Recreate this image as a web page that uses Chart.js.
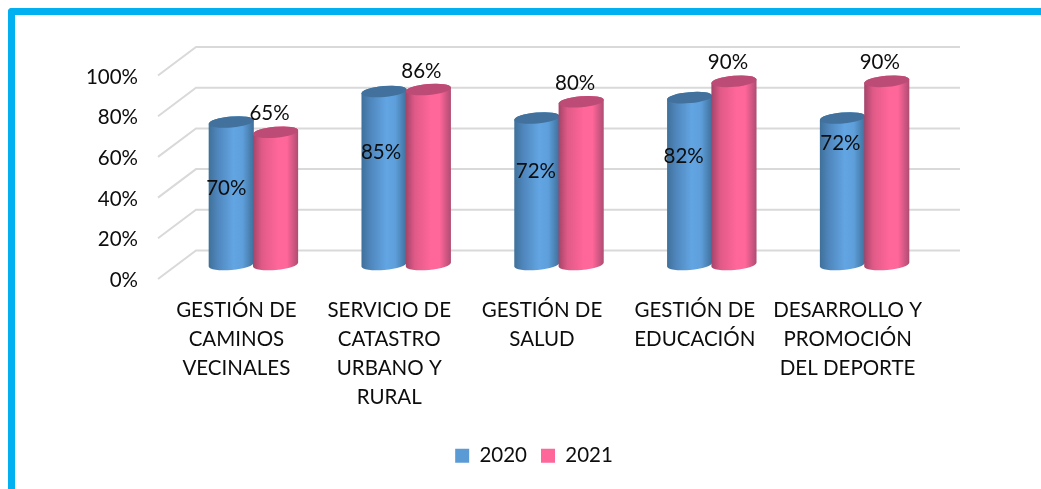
<!DOCTYPE html>
<html><head><meta charset="utf-8">
<style>
html,body{margin:0;padding:0;background:#fff;width:1041px;height:489px;overflow:hidden}
#frame{position:absolute;left:8px;top:8px;right:0;bottom:0;border-left:7.5px solid #00B0F0;border-top:7.5px solid #00B0F0;border-top-left-radius:4px;box-sizing:border-box}
#wrap{position:absolute;left:0;top:0;width:1041px;height:489px}
</style>
<script src="https://cdn.jsdelivr.net/npm/chart.js@4"></script>
</head><body>
<div id="frame"></div>
<div id="wrap"><canvas id="c" width="1041" height="489"></canvas></div>
<script>
const categories = [
  ["GESTIÓN DE","CAMINOS","VECINALES"],
  ["SERVICIO DE","CATASTRO","URBANO Y","RURAL"],
  ["GESTIÓN DE","SALUD"],
  ["GESTIÓN DE","EDUCACIÓN"],
  ["DESARROLLO Y","PROMOCIÓN","DEL DEPORTE"]
];
const seriesNames = ["2020","2021"];
const values2020 = [70,85,72,82,72];
const values2021 = [65,86,80,90,90];
const legendColors = ["#5B9BD5","#FF6699"];
const bodyShades = [["#3F7099","#4F86BC","#62A5E3","#5E9FDB","#3E6F9A"],["#A34468","#E05A87","#FF6699","#FF6699","#AE4C72"]];
const topShades = ["#41719C","#BC4C75"];
// hand-placed label offsets from each bar's top centre, as in the reference
const labelNudge = [
  [[-5,66],[-3,61],[-1,53],[-6,59],[-2,25]],
  [[-6,-19],[-7,-18],[-6,-18],[-6,-19],[-7,-19]]
];
const FONT = "Lato, sans-serif";
const SIZE = 20.5;
const tilt = -5*Math.PI/180, ry = 5.5;

const cylinders = {
  id:"cylinders",
  beforeDatasetsDraw(chart){
    const ctx = chart.ctx, ys = chart.scales.y, a = chart.chartArea;
    ctx.save();
    ctx.strokeStyle = "#D9D9D9"; ctx.lineWidth = 2; ctx.lineCap="butt"; ctx.lineJoin="miter";
    ys.ticks.forEach(t=>{
      const p = ys.getPixelForValue(t.value);
      ctx.beginPath();
      ctx.moveTo(a.left-19,p+14.5);
      ctx.lineTo(a.left+19,p-14);
      ctx.lineTo(a.right+19,p-14);
      ctx.stroke();
    });
    ctx.restore();
  },
  beforeDatasetDraw(){ return false; },
  afterDatasetsDraw(chart){
    const ctx = chart.ctx;
    chart.data.datasets.forEach((ds,d)=>{
      chart.getDatasetMeta(d).data.forEach(el=>{
        const {x,y,width,base} = el.getProps(["x","y","width","base"],true);
        const rx = width/2+0.5;
        ctx.save();
        ctx.beginPath();
        ctx.ellipse(x,base,rx,ry,tilt,Math.PI,0,true);
        ctx.ellipse(x,y,rx,ry,tilt,0,Math.PI,true);
        ctx.closePath();
        const g = ctx.createLinearGradient(x-rx,0,x+rx,0);
        const s = bodyShades[d];
        [0,0.2,0.55,0.75,1].forEach((o,i)=>g.addColorStop(o,s[i]));
        ctx.fillStyle = g; ctx.fill();
        ctx.beginPath();
        ctx.ellipse(x,y,rx,ry,tilt,0,Math.PI*2);
        ctx.fillStyle = topShades[d]; ctx.fill();
        ctx.restore();
      });
    });
    ctx.save();
    ctx.font = SIZE+"px "+FONT; ctx.fillStyle="#0D0D0D"; ctx.textAlign="center"; ctx.textBaseline="middle";
    chart.data.datasets.forEach((ds,d)=>{
      chart.getDatasetMeta(d).data.forEach((el,i)=>{
        const n = labelNudge[d][i];
        ctx.fillText(ds.data[i]+"%", el.x+n[0], el.y+n[1]);
      });
    });
    ctx.restore();
  }
};

new Chart(document.getElementById("c"),{
  type:"bar",
  data:{labels:categories,datasets:[
    {label:seriesNames[0],data:values2020,backgroundColor:legendColors[0],borderWidth:0},
    {label:seriesNames[1],data:values2021,backgroundColor:legendColors[1],borderWidth:0}
  ]},
  plugins:[cylinders],
  options:{
    responsive:false,animation:false,
    layout:{padding:{left:27,right:0,top:61,bottom:13}},
    datasets:{bar:{categoryPercentage:0.58,barPercentage:1}},
    plugins:{
      tooltip:{enabled:false},
      legend:{position:"bottom",labels:{boxWidth:14,boxHeight:14,padding:14,color:"#0D0D0D",font:{family:FONT,size:SIZE}}}
    },
    scales:{
      x:{
        grid:{display:false,drawTicks:false},border:{display:false},
        afterFit(s){s.height=167;},
        ticks:{maxRotation:0,minRotation:0,autoSkip:false,labelOffset:-17,padding:32,color:"#0D0D0D",font:{family:FONT,size:SIZE,lineHeight:1.4}}
      },
      y:{
        min:0,max:100,
        grid:{display:false,drawTicks:false},border:{display:false},
        afterFit(s){s.width=150;},
        ticks:{stepSize:20,padding:39,labelOffset:16,color:"#0D0D0D",callback:v=>v+"%",font:{family:FONT,size:SIZE}}
      },
      rightGutter:{
        position:"right",min:0,max:100,
        grid:{display:false,drawTicks:false},border:{display:false},
        afterFit(s){s.width=100;},
        ticks:{display:false}
      }
    }
  }
});
</script>
</body></html>
